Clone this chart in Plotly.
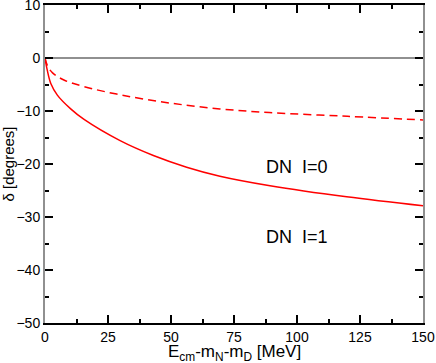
import plotly.graph_objects as go

# phase shifts
e_solid = [0, 0.9, 2.3, 4.9, 10.2, 15.5, 29.8, 43.0, 56.2, 69.4, 89.3, 119.7, 150]
d_solid = [0, -2.3, -4.8, -7.0, -9.6, -11.6, -15.6, -18.4, -20.6, -22.3, -24.1, -26.2, -27.9]
e_dash = [0, 1.0, 3.0, 7.5, 15.5, 30.5, 49.6, 69.4, 89.0, 120, 150]
d_dash = [0, -1.5, -2.8, -4.15, -5.4, -7.0, -8.5, -9.6, -10.3, -11.0, -11.7]

labels = ["DN  I=0", "DN  I=1"]
label_x = [100, 100]
label_y = [-20.6, -33.8]

FONT = "Liberation Sans, Arial, sans-serif"

fig = go.Figure()
fig.add_trace(go.Scatter(x=[0, 150], y=[0, 0], mode="lines",
                         line=dict(color="#909090", width=2), hoverinfo="skip"))
fig.add_trace(go.Scatter(x=e_dash, y=d_dash, mode="lines", line_shape="spline",
                         line=dict(color="red", width=1.5, dash="8px,5px")))
fig.add_trace(go.Scatter(x=e_solid, y=d_solid, mode="lines", line_shape="spline",
                         line=dict(color="red", width=1.5)))

for t, x, y in zip(labels, label_x, label_y):
    fig.add_annotation(x=x, y=y, text=t, showarrow=False,
                       font=dict(family=FONT, size=18, color="black"))

# x title as an annotation so it sits centred under the plot
fig.add_annotation(xref="paper", yref="paper", x=0.5, y=-0.055, yanchor="top",
                   text="E<sub>cm</sub>-m<sub>N</sub>-m<sub>D</sub> [MeV]", showarrow=False,
                   font=dict(family=FONT, size=17, color="black"))

fig.update_layout(
    width=436, height=363,
    margin=dict(l=45, r=13, t=5, b=40),
    plot_bgcolor="white", paper_bgcolor="white",
    showlegend=False,
    font=dict(family=FONT, size=14, color="black"),
)
fig.update_xaxes(
    range=[0, 150], tickvals=[0, 25, 50, 75, 100, 125, 150],
    showgrid=False, zeroline=False, automargin=False, ticklabeloverflow="allow",
    showline=True, linecolor="black", linewidth=2, mirror="allticks",
    ticks="inside", ticklen=8, tickwidth=1.5, tickcolor="black",
    minor=dict(dtick=12.5, ticks="inside", ticklen=4, tickwidth=1.5, tickcolor="black", showgrid=False),
    tickfont=dict(size=14),
)
fig.update_yaxes(
    range=[-50, 10], tickvals=[-50, -40, -30, -20, -10, 0, 10],
    showgrid=False, zeroline=False, automargin=False, ticklabeloverflow="allow",
    showline=True, linecolor="#909090", linewidth=2, mirror="allticks",
    ticks="inside", ticklen=8, tickwidth=1.5, tickcolor="black",
    minor=dict(dtick=5, ticks="inside", ticklen=4, tickwidth=1.5, tickcolor="black", showgrid=False),
    title=dict(text="δ [degrees]", font=dict(size=15), standoff=0),
    tickfont=dict(size=14),
)

fig.write_html("out.html", config={"displayModeBar": False},
               post_script="document.body.style.margin='0';")
